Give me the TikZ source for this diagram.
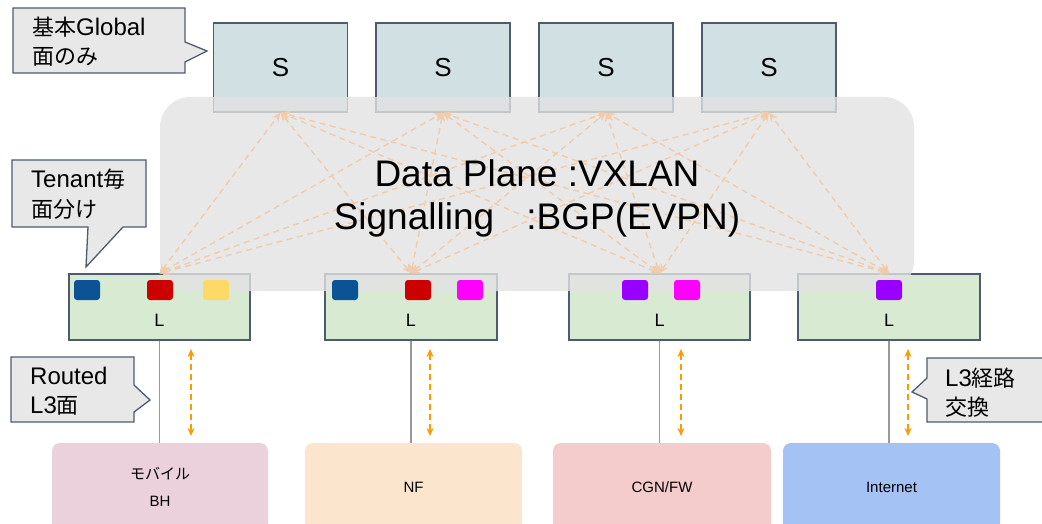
\documentclass[tikz,border=0pt]{standalone}
\usepackage{fontspec}
\setmainfont{Liberation Sans}
\newfontfamily\jp{Noto Sans CJK JP}
\usetikzlibrary{arrows.meta}
\definecolor{slate}{HTML}{4D5B6E}
\definecolor{sfill}{HTML}{D0E0E3}
\definecolor{lfill}{HTML}{D9EAD3}
\definecolor{panel}{HTML}{E2E2E2}
\definecolor{callfill}{HTML}{E8E8E8}
\definecolor{peach}{RGB}{240,204,172}
\definecolor{orng}{HTML}{FF9900}
\definecolor{qblue}{HTML}{0B5394}
\definecolor{qred}{HTML}{CC0000}
\definecolor{qyellow}{HTML}{FFD966}
\definecolor{qmag}{HTML}{FF00FF}
\definecolor{qpurple}{HTML}{9900FF}
\definecolor{bpink}{HTML}{EAD1DC}
\definecolor{bnf}{HTML}{FCE5CD}
\definecolor{bcgn}{HTML}{F4CCCC}
\definecolor{binet}{HTML}{A4C2F4}
\tikzset{
  sbox/.style={draw=slate, line width=1.3pt, fill=sfill, minimum width=134pt, minimum height=89pt, inner sep=0pt, font=\fontsize{26}{30}\selectfont},
  lbox/.style={draw=slate, line width=1.3pt, fill=lfill, minimum height=66pt, inner sep=0pt},
  ltext/.style={inner sep=0pt, font=\fontsize{18}{20}\selectfont},
  sq/.style={minimum width=26pt, minimum height=20pt, inner sep=0pt, rounded corners=3pt},
  bbox/.style={minimum height=88pt, inner sep=0pt, rounded corners=8pt, align=center, font=\fontsize{15}{27}\selectfont},
  parrow/.style={draw=peach, line width=1.4pt, dash pattern=on 6pt off 4.5pt, {Stealth[length=9pt,width=8pt]}-{Stealth[length=9pt,width=8pt]}},
  oarrow/.style={draw=orng, line width=1.8pt, dash pattern=on 6pt off 4pt, {Stealth[length=8pt,width=7pt]}-{Stealth[length=8pt,width=7pt]}},
  gline/.style={draw=black!40, line width=1.3pt},
  callout/.style={draw=slate, line width=1.3pt, fill=callfill},
  ctext/.style={inner sep=0pt, anchor=base west, align=left, font=\fontsize{24}{29}\selectfont},
}
\newcommand{\cj}[1]{{\jp\fontsize{22}{29}\selectfont #1}}
\begin{document}
\begin{tikzpicture}[x=1pt,y=-1pt]
\useasboundingbox (0,0) rectangle (1042,524);
\clip (0,0) rectangle (1042,524);

% spine boxes
\node[sbox] (s1) at (280.5,67.5) {S};
\node[sbox] (s2) at (443,67.5) {S};
\node[sbox] (s3) at (606,67.5) {S};
\node[sbox] (s4) at (769,67.5) {S};

% leaf boxes
\node[lbox, minimum width=181pt] (l1) at (159.5,307) {};
\node[lbox, minimum width=172pt] (l2) at (411,307) {};
\node[lbox, minimum width=181pt] (l3) at (659.5,307) {};
\node[lbox, minimum width=182pt] (l4) at (889,307) {};

% translucent panel
\node[fill=panel, fill opacity=0.8, rounded corners=30pt, minimum width=754pt, minimum height=194pt, inner sep=0pt] (panel) at (537,194) {};

% overlay arrows
\foreach \l in {l1,l2,l3,l4}{
  \foreach \s in {s1,s2,s3,s4}{
    \draw[parrow] (\l.north) -- (\s.south);
  }
}

% main text
\node[align=center, inner sep=0pt, font=\fontsize{37}{43}\selectfont] (title) at (537,198)
  {Data Plane :VXLAN\\Signalling\hspace{0.87em}:BGP(EVPN)};

% tenant squares
\node[sq, fill=qblue] (q11) at (87,290) {};
\node[sq, fill=qred] (q12) at (160,290) {};
\node[sq, fill=qyellow] (q13) at (216,290) {};
\node[sq, fill=qblue] (q21) at (345,290) {};
\node[sq, fill=qred] (q22) at (418,290) {};
\node[sq, fill=qmag] (q23) at (470,290) {};
\node[sq, fill=qpurple] (q31) at (635,290) {};
\node[sq, fill=qmag] (q32) at (687,290) {};
\node[sq, fill=qpurple] (q41) at (889,290) {};

% L labels
\node[ltext] (lt1) at (159.5,320) {L};
\node[ltext] (lt2) at (411,320) {L};
\node[ltext] (lt3) at (659.5,320) {L};
\node[ltext] (lt4) at (889,320) {L};

% bottom boxes
\node[bbox, fill=bpink, minimum width=216pt] (b1) at (160,487) {{\jp モバイル}\\BH};
\node[bbox, fill=bnf, minimum width=217pt] (b2) at (413.5,487) {NF};
\node[bbox, fill=bcgn, minimum width=218pt] (b3) at (662,487) {CGN/FW};
\node[bbox, fill=binet, minimum width=217pt] (b4) at (891.5,487) {Internet};

% grey links
\draw[gline] (l1.south) -- (l1.south |- b1.north);
\draw[gline] (l2.south) -- (l2.south |- b2.north);
\draw[gline] (l3.south) -- (l3.south |- b3.north);
\draw[gline] (l4.south) -- (l4.south |- b4.north);

% orange route exchange arrows
\coordinate (oa1) at (191,349); \coordinate (ob1) at (191,436);
\coordinate (oa2) at (430,349); \coordinate (ob2) at (430,436);
\coordinate (oa3) at (681,349); \coordinate (ob3) at (681,436);
\coordinate (oa4) at (908,349); \coordinate (ob4) at (908,436);
\draw[oarrow] (oa1) -- (ob1);
\draw[oarrow] (oa2) -- (ob2);
\draw[oarrow] (oa3) -- (ob3);
\draw[oarrow] (oa4) -- (ob4);

% callouts (node anchor = baseline of last line)
\draw[callout] (13,8) -- (185,8) -- (185,42) -- (207,51) -- (185,62) -- (185,73) -- (13,73) -- cycle;
\node[ctext] (c1) at (32,65) {\cj{基本}Global\\\cj{面のみ}};

\draw[callout] (12,160) -- (146,160) -- (146,227) -- (123,227) -- (86,267) -- (88,227) -- (12,227) -- cycle;
\node[ctext] (c2) at (31,217) {Tenant\cj{毎}\\\cj{面分け}};

\draw[callout] (11,357) -- (134,357) -- (134,385) -- (150,400) -- (134,412) -- (134,422) -- (11,422) -- cycle;
\node[ctext] (c3) at (30,413) {Routed\\L3\cj{面}};

\draw[callout] (927,358) -- (1050,358) -- (1050,422) -- (927,422) -- (927,399) -- (912,392) -- (927,378) -- cycle;
\node[ctext] (c4) at (945,415) {L3\cj{経路}\\\cj{交換}};
\end{tikzpicture}
\end{document}
